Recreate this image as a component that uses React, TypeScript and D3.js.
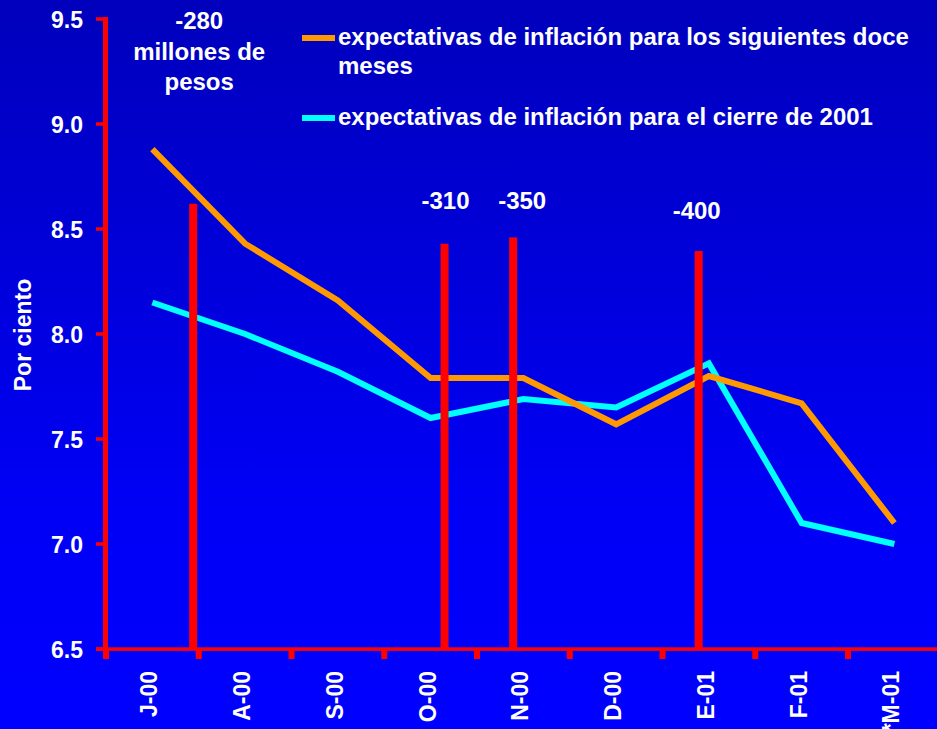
import React from 'react';
import * as d3 from 'd3';

// ---- data ----
const categories = ['J-00', 'A-00', 'S-00', 'O-00', 'N-00', 'D-00', 'E-01', 'F-01', '*M-01'];
const expDoce = [8.88, 8.43, 8.16, 7.79, 7.79, 7.57, 7.8, 7.67, 7.1];
const expCierre = [8.15, 8.0, 7.82, 7.6, 7.69, 7.65, 7.86, 7.1, 7.0];
const yTicks = [6.5, 7.0, 7.5, 8.0, 8.5, 9.0, 9.5];
// monetary "corto" events: position in category-index units, top value
const cutPositions = [0.44, 3.15, 3.89, 5.89];
const cutTops = [8.62, 8.43, 8.46, 8.395];
const cutLabels = [['-280', 'millones de', 'pesos'], ['-310'], ['-350'], ['-400']];
const legendLabels = [
  ['expectativas de inflación para los siguientes doce', 'meses'],
  ['expectativas de inflación para el cierre de 2001'],
];

const W = 937;
const H = 729;
const FONT = "'Liberation Sans', Arial, Helvetica, sans-serif";
const ORANGE = '#FF9900';
const CYAN = '#00FFFF';
const RED = '#FF0000';

// label offsets relative to the bar (px)
const labelOffsets = [
  { dx: 6, y: 29 },
  { dx: 1, y: 209 },
  { dx: 9, y: 209 },
  { dx: -2, y: 219 },
];

export default function App() {
  const x = d3.scaleBand<string>().domain(categories).range([106, 106 + 92.75 * 9]).padding(0);
  const xIdx = d3.scaleLinear().domain([-0.5, 8.5]).range([106, 106 + 92.75 * 9]);
  const y = d3.scaleLinear().domain([6.5, 9.5]).range([649, 19]);
  const cx = (c: string) => (x(c) as number) + x.bandwidth() / 2;

  const line = d3
    .line<number>()
    .x((_, i) => cx(categories[i]))
    .y((d) => y(d));

  const bandEdges = categories.map((c) => x(c) as number);

  return (
    <svg
      width={W}
      height={H}
      style={{ position: 'absolute', left: 0, top: 0, display: 'block' }}
      fontFamily={FONT}
      fontWeight="bold"
    >
      <defs>
        <linearGradient id="bg" x1="0" y1="0" x2="0" y2="1">
          <stop offset="0" stopColor="#0000BC" />
          <stop offset="0.7" stopColor="#0000F6" />
          <stop offset="1" stopColor="#0000FF" />
        </linearGradient>
      </defs>
      <rect x={0} y={0} width={W} height={H} fill="url(#bg)" />

      {/* y axis title */}
      <text
        transform={`translate(31,335) rotate(-90)`}
        textAnchor="middle"
        fill="#fff"
        fontSize={23}
      >
        Por ciento
      </text>

      {/* y tick labels */}
      {yTicks.map((t) => (
        <text key={t} x={83} y={y(t) + 9} textAnchor="end" fill="#fff" fontSize={23}>
          {t.toFixed(1)}
        </text>
      ))}

      {/* lines */}
      <path d={line(expCierre) || ''} fill="none" stroke={CYAN} strokeWidth={6} strokeLinejoin="miter" />
      <path d={line(expDoce) || ''} fill="none" stroke={ORANGE} strokeWidth={6} strokeLinejoin="miter" />

      {/* red event bars */}
      {cutPositions.map((p, i) => (
        <rect
          key={i}
          x={xIdx(p) - 4}
          y={y(cutTops[i])}
          width={8}
          height={y(6.5) - y(cutTops[i])}
          fill={RED}
        />
      ))}

      {/* event labels */}
      {cutLabels.map((lines, i) => (
        <text key={i} textAnchor="middle" fill="#fff" fontSize={24}>
          {lines.map((l, j) => (
            <tspan key={j} x={xIdx(cutPositions[i]) + labelOffsets[i].dx} y={labelOffsets[i].y + j * 30.5}>
              {l}
            </tspan>
          ))}
        </text>
      ))}

      {/* axes */}
      <rect x={103} y={17} width={5} height={642} fill={RED} />
      {yTicks.map((t) => (
        <rect key={t} x={96} y={y(t) - 1.75} width={9} height={3.5} fill={RED} />
      ))}
      <rect x={96} y={647.3} width={W - 96} height={3.6} fill={RED} />
      {bandEdges.map((e, i) => (
        <rect key={i} x={e - 3} y={649} width={6} height={10} fill={RED} />
      ))}

      {/* x tick labels */}
      {categories.map((c) => (
        <text
          key={c}
          transform={`translate(${cx(c) + 5},671) rotate(-90)`}
          textAnchor="end"
          fill="#fff"
          fontSize={23}
        >
          {c}
        </text>
      ))}

      {/* legend */}
      {[ORANGE, CYAN].map((col, i) => {
        const ly = i === 0 ? 38 : 118;
        return (
          <g key={i}>
            <line x1={302} x2={335} y1={ly} y2={ly} stroke={col} strokeWidth={6} />
            <text fill="#fff" fontSize={24}>
              {legendLabels[i].map((l, j) => (
                <tspan key={j} x={338} y={ly + 7 + j * 29}>
                  {l}
                </tspan>
              ))}
            </text>
          </g>
        );
      })}
    </svg>
  );
}
